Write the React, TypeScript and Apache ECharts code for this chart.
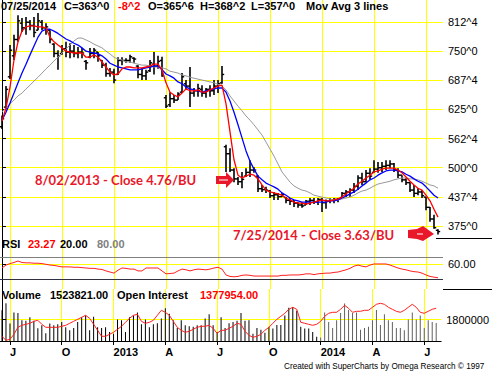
import React, { useEffect, useRef } from 'react';
import * as echarts from 'echarts';

// Weekly bars, 2012-06-22 .. 2014-07-25
const firstWeek = Date.UTC(2012, 5, 22);
const dates: string[] = [];
for (let i = 0; i < 110; i++) {
  dates.push(new Date(firstWeek + i * 7 * 86400000).toISOString().slice(0, 10));
}
const quarterLabels = ['J', 'O', '2013', 'A', 'J', 'O', '2014', 'A', 'J'];

const open = [588,630,695,740,775,810,800,812,805,795, 812,800,795,765,745,745,755,748,750,745, 748,728,737,745,748,730,720,702,705,700, 730,730,730,735,718,700,697,708,722,718, 730,650,635,648,645,662,680,675,660,665, 668,660,668,665,675,682,545,530,495,476, 470,482,490,495,482,455,453,450,440,442, 438,436,430,428,424,420,420,428,430,427, 432,425,428,430,432,436,445,448,452,460, 478,470,488,490,497,500,503,505,508,496, 484,474,468,452,445,448,437,415,390,365.75];
const high = [612,675,763,785,827,821,823,817,823,832, 817,810,795,767,752,763,770,767,763,759, 757,731,757,757,748,731,725,714,712,737, 737,735,742,737,720,714,710,731,748,740, 738,656,662,656,662,703,688,716,671,680, 677,671,677,688,688,718,549,542,499,480, 491,499,516,501,484,463,459,452,448,446, 446,437,435,431,426,426,431,435,435,435, 435,432,435,435,435,448,452,456,467,484, 489,495,499,516,512,512,516,516,510,499, 484,478,469,463,456,452,437,416,399,368.25];
const low = [583,625,690,731,770,791,785,795,780,795, 795,785,767,737,710,742,737,735,737,735, 735,710,735,735,727,714,695,695,681,699, 720,725,725,725,692,688,688,705,700,712, 695,628,630,639,645,662,667,630,652,652, 652,650,652,656,660,680,491,491,469,463, 456,480,480,489,448,448,446,435,431,431, 437,424,420,416,414,414,420,420,422,420, 405,412,424,424,426,435,437,437,446,452, 463,469,474,489,489,491,495,499,491,478, 469,463,448,437,441,435,409,384,369,357];
const close = [605,668,752,775,815,800,812,805,790,815, 800,802,775,745,740,755,748,750,745,748, 746,725,745,752,740,720,702,705,688,730, 730,730,738,733,700,697,705,725,718,728, 697,632,648,645,658,695,675,660,665,670, 660,668,665,675,680,700,530,495,476,470, 475,490,495,495,455,453,452,440,442,438, 442,430,428,424,420,418,428,430,427,432, 425,428,430,432,433,445,448,452,460,478, 470,488,482,497,500,503,505,508,496,484, 474,468,452,445,448,440,415,390,371.25,363];

const maFast = [600,628,673,731,770,793,802,804,804,802, 802,800,780,770,763,757,750,748,746,746, 746,737,737,742,737,727,716,705,699,701, 712,716,716,714,714,714,716,718,722,722, 710,682,662,656,652,660,669,665,665,667, 662,662,667,671,675,677,637,577,517,484, 478,482,486,484,476,463,452,448,446,444, 441,435,431,426,424,424,422,424,426,429, 431,429,429,431,433,437,444,450,456,465, 471,478,484,491,493,497,499,499,499,495, 489,480,471,463,456,452,441,429,411,394];
const maMid = [602,619,639,660,682,703,722,742,761,780, 793,797,797,793,788,782,776,772,767,763, 757,750,748,746,744,740,733,724,720,716, 714,712,710,710,710,712,714,716,718,718, 710,701,697,692,684,680,673,669,667,665, 662,665,667,669,671,671,662,643,619,592, 564,536,514,497,482,474,467,463,459,454, 446,441,435,431,429,426,426,426,426,426, 426,426,429,429,431,435,439,444,448,454, 461,467,474,478,484,489,493,495,495,493, 491,486,482,476,471,467,459,450,441,435];
const maSlow = [620,628,637,645,654,660,669,677,686,694, 703,712,720,729,737,746,755,763,772,778, 778,774,770,765,761,757,750,744,737,733, 731,727,727,724,722,720,720,718,716,716, 714,712,707,705,703,699,697,694,692,690, 688,686,684,682,679,675,667,654,643,632, 622,611,602,592,581,570,555,540,525,508, 491,480,469,461,456,452,450,446,441,439, 437,435,433,431,431,433,435,437,441,446, 450,452,456,461,465,467,469,471,474,476, 478,478,476,476,474,471,467,463,461,456];

const rsi = [50,58,62,65,69,65,64,64,63,63, 62,60,58,57,55,53,53,53,52,52, 51,50,49,49,47,46,42,39,36,44, 50,49,47,47,42,42,50,50,50,50, 42,34,35,36,42,47,45,42,45,47, 46,45,47,50,52,47,31,27,26,27, 30,31,30,28,28,28,28,28,28,28, 30,30,31,31,31,32,34,34,32,34, 35,36,36,38,39,42,45,49,55,58, 55,53,58,61,61,61,61,58,54,50, 47,45,42,40,39,36,31,27,25,23.27];

const volume = [2580000,3170000,1480000,2400000,2350000,1750000,1700000,2000000,1700000,1070000, 1330000,650000,1480000,1330000,1400000,1600000,1150000,900000,1100000,1600000, 2000000,2150000,900000,2050000,1150000,1100000,1150000,750000,600000,1800000, 1750000,750000,2000000,2150000,2400000,1400000,1800000,1150000,1400000,1500000, 1900000,2750000,2300000,1750000,1100000,1750000,1330000,1250000,1200000,1330000, 1330000,1900000,2250000,1330000,750000,2000000,1100000,1500000,1600000,1700000, 2350000,1700000,1750000,600000,1100000,950000,700000,1200000,1050000,1350000, 1350000,2150000,2800000,2850000,2550000,1200000,1050000,1050000,750000,350000, 300000,2400000,1600000,1100000,1750000,2350000,3150000,2600000,2350000,2400000, 950000,1100000,1200000,1750000,2600000,1350000,2250000,1750000,1600000,1100000, 1100000,900000,1800000,2400000,1800000,2150000,1100000,1750000,1600000,1523821];

const openInterest = [1097000,1057000,1067000,1117000,1187000,1207000,1217000,1227000,1247000,1257000, 1217000,1187000,1187000,1187000,1187000,1197000,1207000,1227000,1247000,1267000, 1287000,1307000,1277000,1217000,1157000,1097000,1097000,1117000,1137000,1167000, 1197000,1237000,1277000,1307000,1317000,1247000,1227000,1237000,1257000,1307000, 1357000,1337000,1307000,1247000,1187000,1157000,1137000,1147000,1167000,1187000, 1197000,1197000,1207000,1177000,1127000,1157000,1157000,1177000,1197000,1227000, 1217000,1147000,1107000,1087000,1097000,1117000,1157000,1187000,1227000,1267000, 1297000,1327000,1367000,1387000,1367000,1237000,1227000,1217000,1207000,1217000, 1247000,1297000,1327000,1337000,1337000,1367000,1407000,1377000,1337000,1347000, 1347000,1357000,1357000,1387000,1417000,1427000,1417000,1387000,1367000,1347000, 1337000,1357000,1387000,1417000,1387000,1337000,1327000,1347000,1367000,1377954];

const priceTicks = [375, 437.5, 500, 562.5, 625, 687.5, 750, 812.5];
const priceTickLabels = ['375^0', '437^4', '500^0', '562^4', '625^0', '687^4', '750^0', '812^4'];
const rsiTicks = [60];
const rsiTickLabels = ['60.00'];
const volTicks = [1800000];
const volTickLabels = ['1800000'];

const FONT = '"Liberation Sans", Arial, sans-serif';

const quarterIdx: number[] = [];
dates.forEach((d, i) => {
  const dt = new Date(d + 'T00:00:00Z');
  if (dt.getUTCMonth() % 3 === 0 && dt.getUTCDate() <= 7) quarterIdx.push(i);
});

const txt = (text: string, x: number, y: number, fill: string, size = 11, weight = 'bold', family = FONT) => ({
  type: 'text', x, y, silent: true, z: 50,
  style: { text, fill, font: `${weight} ${size}px ${family}`, verticalAlign: 'middle', align: 'left' },
});

function buildOption() {
  const xAxes = [0, 1, 2].map((g) => ({
    type: 'value', gridIndex: g, min: -0.5, max: 110.25,
    axisLine: { show: g === 2, onZero: false, lineStyle: { color: '#000', width: 1 } },
    axisTick: { show: g === 2, customValues: quarterIdx, length: 4, lineStyle: { color: '#000' } },
    axisLabel: {
      show: g === 2, customValues: quarterIdx, align: 'left', margin: 5,
      color: '#000', fontSize: 11, fontWeight: 'bold', fontFamily: FONT,
      formatter: (v: number) => quarterLabels[quarterIdx.indexOf(Math.round(v))] || '',
    },
    splitLine: { show: true, lineStyle: { color: '#ffff00', width: 1 } },
  }));
  const yBase = (g: number, min: number, max: number, ticks: number[], labels: string[]) => ({
    type: 'value', gridIndex: g, min, max, position: 'right',
    axisLine: { show: true, lineStyle: { color: '#000', width: 1 } },
    axisTick: { show: true, customValues: ticks, length: 4, lineStyle: { color: '#000' } },
    axisLabel: {
      show: true, customValues: ticks, margin: 5, color: '#000', fontSize: 11, fontFamily: FONT,
      formatter: (v: number) => labels[ticks.indexOf(v)] ?? '',
    },
    splitLine: { show: true, lineStyle: { color: '#ffff00', width: 1 } },
  });
  const idx = (arr: number[]) => arr.map((v, i) => [i, v]);

  return {
    animation: false,
    backgroundColor: '#ffffff',
    textStyle: { fontFamily: FONT },
    grid: [
      { left: 0, top: 0, width: 443, height: 238 },
      { left: 0, top: 238, width: 443, height: 51 },
      { left: 0, top: 289, width: 443, height: 52 },
    ],
    xAxis: xAxes,
    yAxis: [
      yBase(0, 349.26, 859.68, priceTicks, priceTickLabels),
      yBase(1, -7.3, 131.8, rsiTicks, rsiTickLabels),
      yBase(2, 0, 4374000, volTicks, volTickLabels),
      { type: 'value', gridIndex: 2, min: 1050000, max: 1570000, show: false, splitLine: { show: false } },
    ],
    series: [
      {
        type: 'custom', xAxisIndex: 0, yAxisIndex: 0, z: 3,
        data: dates.map((_, i) => [i, open[i], high[i], low[i], close[i]]),
        encode: { x: 0, y: [1, 2, 3, 4] },
        renderItem: (params: any, api: any) => {
          const i = api.value(0);
          const o = api.coord([i, api.value(1)]);
          const h = api.coord([i, api.value(2)]);
          const l = api.coord([i, api.value(3)]);
          const c = api.coord([i, api.value(4)]);
          const x = Math.round(h[0]);
          const st = { stroke: '#000', lineWidth: 1.6 };
          return {
            type: 'group',
            children: [
              { type: 'line', shape: { x1: x, y1: h[1], x2: x, y2: l[1] }, style: st },
              { type: 'line', shape: { x1: x - 2.2, y1: o[1], x2: x, y2: o[1] }, style: { stroke: '#000', lineWidth: 1.4 } },
              { type: 'line', shape: { x1: x, y1: c[1], x2: x + 2.2, y2: c[1] }, style: { stroke: '#000', lineWidth: 1.4 } },
            ],
          };
        },
      },
      { type: 'line', xAxisIndex: 0, yAxisIndex: 0, data: idx(maSlow), showSymbol: false, z: 4, lineStyle: { color: '#999999', width: 1 } },
      { type: 'line', xAxisIndex: 0, yAxisIndex: 0, data: idx(maMid), showSymbol: false, z: 5, lineStyle: { color: '#0000ff', width: 1.3 } },
      { type: 'line', xAxisIndex: 0, yAxisIndex: 0, data: idx(maFast), showSymbol: false, z: 6, lineStyle: { color: '#ff0000', width: 1.3 } },
      {
        type: 'line', xAxisIndex: 1, yAxisIndex: 1, data: idx(rsi), showSymbol: false, z: 5,
        lineStyle: { color: '#ff2020', width: 1 },
        markLine: {
          silent: true, symbol: ['none', 'none'], label: { show: false },
          data: [
            { yAxis: 80, lineStyle: { color: '#808080', width: 1, type: 'solid' } },
            { yAxis: 20, lineStyle: { color: '#303040', width: 1, type: 'solid' } },
          ],
        },
      },
      {
        type: 'bar', xAxisIndex: 2, yAxisIndex: 2, barWidth: 1, z: 3,
        data: volume.map((v, i) => ({ value: [i, v], itemStyle: { color: i >= 80 ? '#606060' : '#000000' } })),
      },
      { type: 'line', xAxisIndex: 2, yAxisIndex: 3, data: idx(openInterest), showSymbol: false, z: 6, lineStyle: { color: '#ff2020', width: 1 } },
    ],
    graphic: [
      txt('07/25/2014', 1, 6, '#000'),
      txt('C=363^0', 64, 6, '#000'),
      txt('-8^2', 118, 6, '#ff0000'),
      txt('O=365^6', 148, 6, '#000'),
      txt('H=368^2', 200, 6, '#000'),
      txt('L=357^0', 251, 6, '#000'),
      txt('Mov Avg 3 lines', 306, 6, '#000'),
      txt('RSI', 2, 244, '#000'),
      txt('23.27', 28, 244, '#ff0000'),
      txt('20.00', 60, 244, '#000'),
      txt('80.00', 97, 244, '#808080'),
      txt('Volume', 2, 295, '#000'),
      txt('1523821.00', 50, 295, '#000'),
      txt('Open Interest', 117, 295, '#000'),
      txt('1377954.00', 200, 295, '#ff0000'),
      txt('Created with SuperCharts by Omega Research \u00a9 1997', 284, 366, '#000', 8.2, 'normal'),
      txt('8/02/2013 - Close 4.76/BU', 35, 180, '#e8182a', 13, 'bold', 'Lato, "Open Sans", sans-serif'),
      txt('7/25/2014 - Close 3.63/BU', 233, 235, '#e8182a', 13, 'bold', 'Lato, "Open Sans", sans-serif'),
      {
        type: 'polygon', silent: true, z: 50,
        shape: { points: [[216, 176], [226, 176], [226, 172], [234, 180], [226, 188], [226, 184], [216, 184]] },
        style: { fill: '#e8182a' },
      },
      { type: 'line', silent: true, z: 51, shape: { x1: 219, y1: 180, x2: 228, y2: 180 }, style: { stroke: '#ffffff', lineWidth: 1 } },
      {
        type: 'polygon', silent: true, z: 50,
        shape: { points: [[408, 230], [417, 229], [423, 226], [434, 234], [423, 241], [417, 239], [408, 238]] },
        smooth: 0.2,
        style: { fill: '#e8182a' },
      },
      { type: 'line', silent: true, z: 51, shape: { x1: 417, y1: 234, x2: 423, y2: 234 }, style: { stroke: '#ffffff', lineWidth: 1 } },
      { type: 'line', silent: true, z: 50, shape: { x1: 436, y1: 238.5, x2: 492, y2: 238.5 }, style: { stroke: '#000', lineWidth: 1 } },
      { type: 'line', silent: true, z: 50, shape: { x1: 443, y1: 289.5, x2: 492, y2: 289.5 }, style: { stroke: '#000', lineWidth: 1 } },
    ],
  };
}

export default function App() {
  const ref = useRef<HTMLDivElement>(null);
  useEffect(() => {
    if (!ref.current) return;
    const chart = echarts.init(ref.current, null, { renderer: 'svg' });
    chart.setOption(buildOption() as any);
    return () => chart.dispose();
  }, []);
  return <div ref={ref} style={{ position: 'absolute', left: 0, top: 0, width: 492, height: 371 }} />;
}
